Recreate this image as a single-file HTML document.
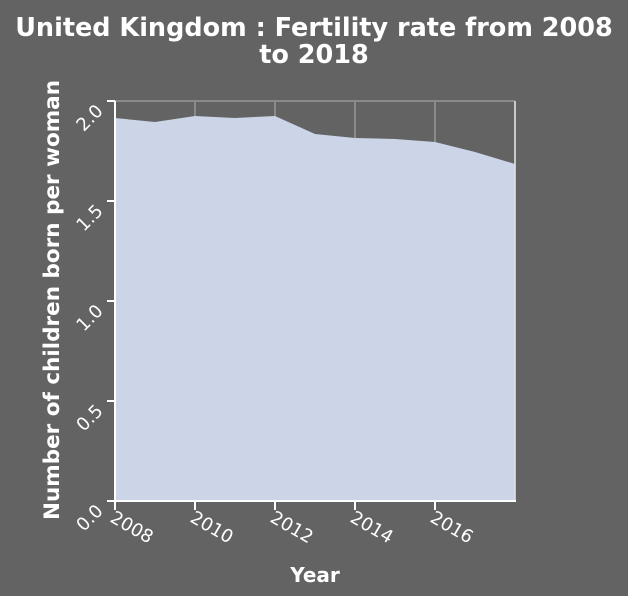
<!DOCTYPE html>
<html><head><meta charset="utf-8"><style>
html,body{margin:0;padding:0;background:#636363;}
svg{display:block;font-family:"DejaVu Sans","Liberation Sans",sans-serif;}
</style></head><body>
<svg id="chart" width="628" height="596">
<rect width="628" height="596" fill="#636363"/>
<text x="314" y="36" text-anchor="middle" font-size="25.5" font-weight="bold" fill="#fff">United Kingdom : Fertility rate from 2008</text>
<text x="314" y="63" text-anchor="middle" font-size="25.5" font-weight="bold" fill="#fff">to 2018</text>
<text x="315" y="582" text-anchor="middle" font-size="20" font-weight="bold" fill="#fff">Year</text>
<text transform="translate(59,300) rotate(-90)" text-anchor="middle" font-size="21.5" font-weight="bold" fill="#fff">Number of children born per woman</text>
<g id="plot"></g>
</svg>
<script>
const years=[2008,2009,2010,2011,2012,2013,2014,2015,2016,2017,2018];
const rates=[1.915,1.895,1.925,1.915,1.925,1.835,1.815,1.81,1.795,1.745,1.685];
const xTicks=[2008,2010,2012,2014,2016];
const yTicks=[0.0,0.5,1.0,1.5,2.0];
const X0=115,X1=515,Y0=501,Y1=101;
const xs=v=>X0+(v-2008)/(2018-2008)*(X1-X0);
const ys=v=>Y0-(v/2)*(Y0-Y1);
const NS='http://www.w3.org/2000/svg';
const g=document.getElementById('plot');
function mk(t,a){const e=document.createElementNS(NS,t);for(const k in a)e.setAttribute(k,a[k]);g.appendChild(e);return e;}
xTicks.concat([2018]).forEach(v=>{
 const l=mk('line',{x1:xs(v),x2:xs(v),y1:Y1,y2:Y0,stroke:'#8a8a8a','stroke-width':2});
 
 
});
const l0=mk('line',{x1:X0,x2:X1,y1:Y1,y2:Y1,stroke:'#8a8a8a','stroke-width':2});


let d='M'+xs(years[0])+','+ys(0);
years.forEach((y,i)=>{d+=' L'+xs(y)+','+ys(rates[i]);});
d+=' L'+xs(years[years.length-1])+','+ys(0)+' Z';
const area=mk('path',{d:d,fill:'#cbd5e7'});


const rl=mk('line',{x1:X1,x2:X1,y1:Y1,y2:Y0,stroke:'#e0e0e0','stroke-width':1.5});


const xa=mk('line',{x1:X0-1,x2:X1+1,y1:Y0,y2:Y0,stroke:'#fff','stroke-width':2});


const ya=mk('line',{x1:X0,x2:X0,y1:Y1,y2:Y0,stroke:'#fff','stroke-width':2});


xTicks.forEach(v=>{
 const t=mk('line',{x1:xs(v),x2:xs(v),y1:Y0,y2:Y0+9,stroke:'#fff','stroke-width':2});
 
 
 const tx=mk('text',{transform:'translate('+(xs(v)-6)+','+(Y0+20)+') rotate(30)','font-size':18,fill:'#fff'});
 tx.textContent=v;
 
 
});
yTicks.forEach(v=>{
 const t=mk('line',{x1:X0-8,x2:X0,y1:ys(v),y2:ys(v),stroke:'#fff','stroke-width':2});
 
 
 const tx=mk('text',{transform:'translate('+(X0-11)+','+(ys(v)+11)+') rotate(-45)','font-size':18,fill:'#fff','text-anchor':'end'});
 tx.textContent=v.toFixed(1);
 
 
});
</script>
</body></html>
